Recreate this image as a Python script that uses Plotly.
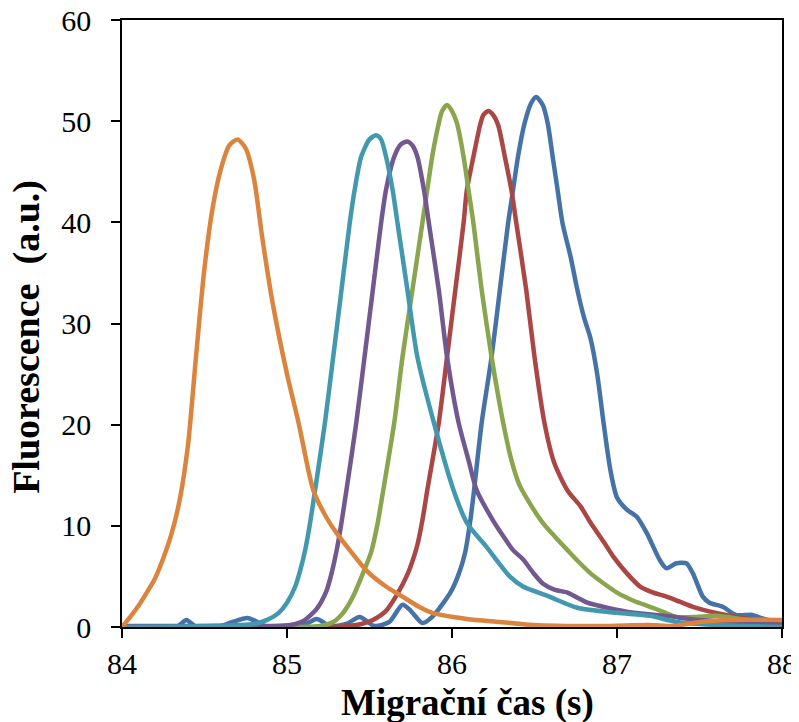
import plotly.graph_objects as go

# Migration time (s) and fluorescence (a.u.) for each series
blue_x = [84.0, 84.33, 84.39, 84.45, 84.60, 84.67, 84.76, 84.82, 84.88, 85.08, 85.18, 85.26, 85.36, 85.44,
          85.53, 85.62, 85.70, 85.75, 85.82, 85.88, 85.99, 86.04, 86.08, 86.11, 86.13, 86.18, 86.24, 86.29,
          86.34, 86.37, 86.40, 86.44, 86.48, 86.51, 86.55, 86.58, 86.61, 86.64, 86.67, 86.72, 86.76, 86.80,
          86.84, 86.88, 86.92, 86.96, 87.0, 87.06, 87.12, 87.18, 87.26, 87.30, 87.36, 87.42, 87.46, 87.52,
          87.56, 87.64, 87.72, 87.82, 87.87, 88.0]
blue_y = [0, 0, 0.7, 0, 0.1, 0.5, 0.9, 0.5, 0, 0, 0.8, 0.1, 0.3, 1.0,
          0.1, 0.5, 2.2, 1.6, 0.4, 1.0, 3.4, 5.2, 7.4, 10.4, 13.0, 20.2, 26.7, 33.3,
          39.9, 43.2, 46.5, 49.8, 51.8, 52.4, 51.6, 49.8, 46.5, 43.2, 39.9, 36.5, 33.3, 30.6,
          28.5, 25.0, 20.0, 15.5, 12.8, 11.6, 10.9, 9.3, 6.6, 5.8, 6.3, 6.3, 5.3, 3.0,
          2.4, 2.0, 1.2, 1.2, 0.9, 0.3]

red_x = [84.0, 85.28, 85.45, 85.52, 85.60, 85.67, 85.73, 85.76, 85.79, 85.82, 85.85, 85.92, 85.97, 86.02,
         86.07, 86.09, 86.13, 86.17, 86.19, 86.22, 86.25, 86.28, 86.32, 86.36, 86.39, 86.45, 86.50, 86.56,
         86.62, 86.70, 86.78, 86.84, 86.92, 86.98, 87.06, 87.14, 87.22, 87.30, 87.38, 87.46, 87.6, 87.8, 88.0]
red_y = [0, 0, 0.3, 0.7, 1.6, 3.3, 5.2, 6.5, 8.1, 10.5, 13.5, 20.2, 26.7, 33.3,
         39.9, 43.2, 46.5, 49.6, 50.6, 51.0, 50.6, 49.6, 46.5, 43.2, 39.9, 33.3, 26.7, 20.2,
         16.2, 13.5, 11.9, 10.3, 8.4, 6.9, 5.3, 4.0, 3.4, 3.0, 2.5, 2.0, 1.4, 0.8, 0.5]

green_x = [84.0, 85.08, 85.20, 85.28, 85.34, 85.40, 85.46, 85.51, 85.55, 85.58, 85.65, 85.70, 85.76, 85.82,
           85.85, 85.88, 85.92, 85.94, 85.97, 86.00, 86.03, 86.07, 86.10, 86.13, 86.18, 86.24, 86.31, 86.36,
           86.41, 86.48, 86.55, 86.62, 86.70, 86.77, 86.84, 86.92, 87.0, 87.1, 87.2, 87.28, 87.36, 87.48,
           87.6, 87.8, 88.0]
green_y = [0, 0, 0.1, 0.5, 1.4, 3.0, 5.3, 7.4, 10.3, 13.2, 20.2, 26.7, 33.3, 39.9,
           43.2, 46.5, 49.8, 51.0, 51.6, 51.0, 49.8, 46.5, 43.2, 39.9, 33.3, 26.7, 20.2, 16.5,
           14.0, 12.0, 10.3, 9.0, 7.6, 6.4, 5.3, 4.3, 3.4, 2.6, 2.0, 1.5, 1.0, 1.0,
           1.1, 0.7, 0.5]

purple_x = [84.0, 84.5, 84.9, 85.02, 85.10, 85.18, 85.24, 85.27, 85.30, 85.33, 85.36, 85.42, 85.47, 85.52,
            85.57, 85.60, 85.65, 85.69, 85.73, 85.76, 85.79, 85.83, 85.86, 85.92, 85.97, 86.04, 86.10, 86.15,
            86.25, 86.31, 86.37, 86.43, 86.49, 86.55, 86.62, 86.70, 86.76, 86.82, 86.94, 87.1, 87.3, 87.5, 88.0]
purple_y = [0.1, 0.1, 0.1, 0.2, 0.6, 1.8, 3.6, 5.3, 7.5, 10.3, 13.5, 20.2, 26.7, 33.3,
            39.9, 43.2, 46.5, 47.7, 48.0, 47.6, 46.5, 43.2, 39.9, 33.3, 26.7, 20.2, 16.5, 13.5,
            10.5, 9.0, 7.6, 6.7, 5.4, 4.3, 3.7, 3.4, 2.9, 2.4, 1.9, 1.4, 1.1, 0.7, 0.3]

teal_x = [84.0, 84.5, 84.80, 84.88, 84.95, 85.00, 85.05, 85.08, 85.11, 85.14, 85.17, 85.23, 85.28, 85.33,
          85.38, 85.41, 85.45, 85.50, 85.54, 85.57, 85.60, 85.64, 85.67, 85.73, 85.79, 85.89, 86.01, 86.09,
          86.21, 86.35, 86.43, 86.59, 86.76, 87.0, 87.2, 87.36, 87.6, 88.0]
teal_y = [0, 0.1, 0.3, 0.7, 1.4, 2.4, 4.0, 5.6, 7.6, 10.3, 13.5, 20.2, 26.7, 33.3,
          39.9, 43.2, 46.5, 48.2, 48.6, 48.2, 46.5, 43.2, 39.9, 33.3, 26.7, 20.2, 13.5, 10.3,
          7.9, 5.0, 4.0, 3.0, 1.9, 1.4, 1.1, 0.5, 0.2, 0.0]

orange_x = [84.0, 84.05, 84.10, 84.15, 84.20, 84.25, 84.30, 84.35, 84.40, 84.45, 84.50, 84.55, 84.60, 84.65,
            84.70, 84.75, 84.80, 84.85, 84.91, 85.00, 85.07, 85.16, 85.24, 85.30, 85.38, 85.48, 85.60, 85.70,
            85.80, 85.88, 86.09, 86.29, 86.49, 86.9, 87.2, 87.34, 87.5, 87.7, 88.0]
orange_y = [0, 1.0, 2.1, 3.4, 4.8, 6.8, 9.2, 12.6, 18.0, 27.0, 35.5, 41.5, 45.3, 47.6,
            48.2, 47.3, 44.3, 38.5, 32.3, 25.0, 20.2, 13.5, 10.8, 9.3, 7.6, 5.6, 4.0, 3.0,
            2.0, 1.4, 0.8, 0.5, 0.2, 0.1, 0.2, 0.1, 0.5, 0.7, 0.7]

x_ticks = [84, 85, 86, 87, 88]
y_ticks = [0, 10, 20, 30, 40, 50, 60]

series = [
    (blue_x, blue_y, "#4572A7"),
    (red_x, red_y, "#AA4643"),
    (green_x, green_y, "#89A54E"),
    (purple_x, purple_y, "#71588F"),
    (teal_x, teal_y, "#4198AF"),
    (orange_x, orange_y, "#DB843D"),
]

fig = go.Figure()
for xs, ys, col in series:
    fig.add_trace(go.Scatter(x=xs, y=ys, mode="lines",
                             line=dict(color=col, width=4.5, shape="spline", smoothing=0.7),
                             showlegend=False, hoverinfo="skip"))

font_family = "Liberation Serif"
# the page body adds an 8px margin, so the figure is sized to fill the remaining window
fig.update_layout(
    width=791, height=714,
    margin=dict(l=114, r=17, t=12, b=95),
    paper_bgcolor="white", plot_bgcolor="white",
    font=dict(family=font_family, color="black"),
    showlegend=False,
    annotations=[
        dict(text="<b>Migrační čas (s)</b>", xref="paper", yref="paper", x=0.524, y=0,
             xanchor="center", yanchor="middle", yshift=-76, showarrow=False,
             font=dict(family=font_family, size=37, color="black")),
        dict(text="<b>Fluorescence  (a.u.)</b>", xref="paper", yref="paper", x=0, y=0.478,
             xanchor="center", yanchor="middle", xshift=-95, textangle=-90, showarrow=False,
             font=dict(family=font_family, size=38, color="black")),
    ],
)
fig.update_xaxes(
    range=[84, 88], tickvals=x_ticks, ticktext=[str(v) for v in x_ticks],
    automargin=False, ticklabeloverflow="allow",
    showgrid=False, zeroline=False,
    showline=True, linecolor="black", linewidth=1.5, mirror=True,
    ticks="outside", ticklen=9, tickwidth=1.5, tickcolor="black",
    ticklabelstandoff=0,
    tickfont=dict(family=font_family, size=30, color="black"),
)
fig.update_yaxes(
    range=[0, 60], tickvals=y_ticks, ticktext=[str(v) for v in y_ticks],
    automargin=False, ticklabeloverflow="allow",
    showgrid=False, zeroline=False,
    showline=True, linecolor="black", linewidth=1.5, mirror=True,
    ticks="outside", ticklen=9, tickwidth=1.5, tickcolor="black",
    ticklabelstandoff=14,
    tickfont=dict(family=font_family, size=30, color="black"),
)

fig.write_html("out.html")
